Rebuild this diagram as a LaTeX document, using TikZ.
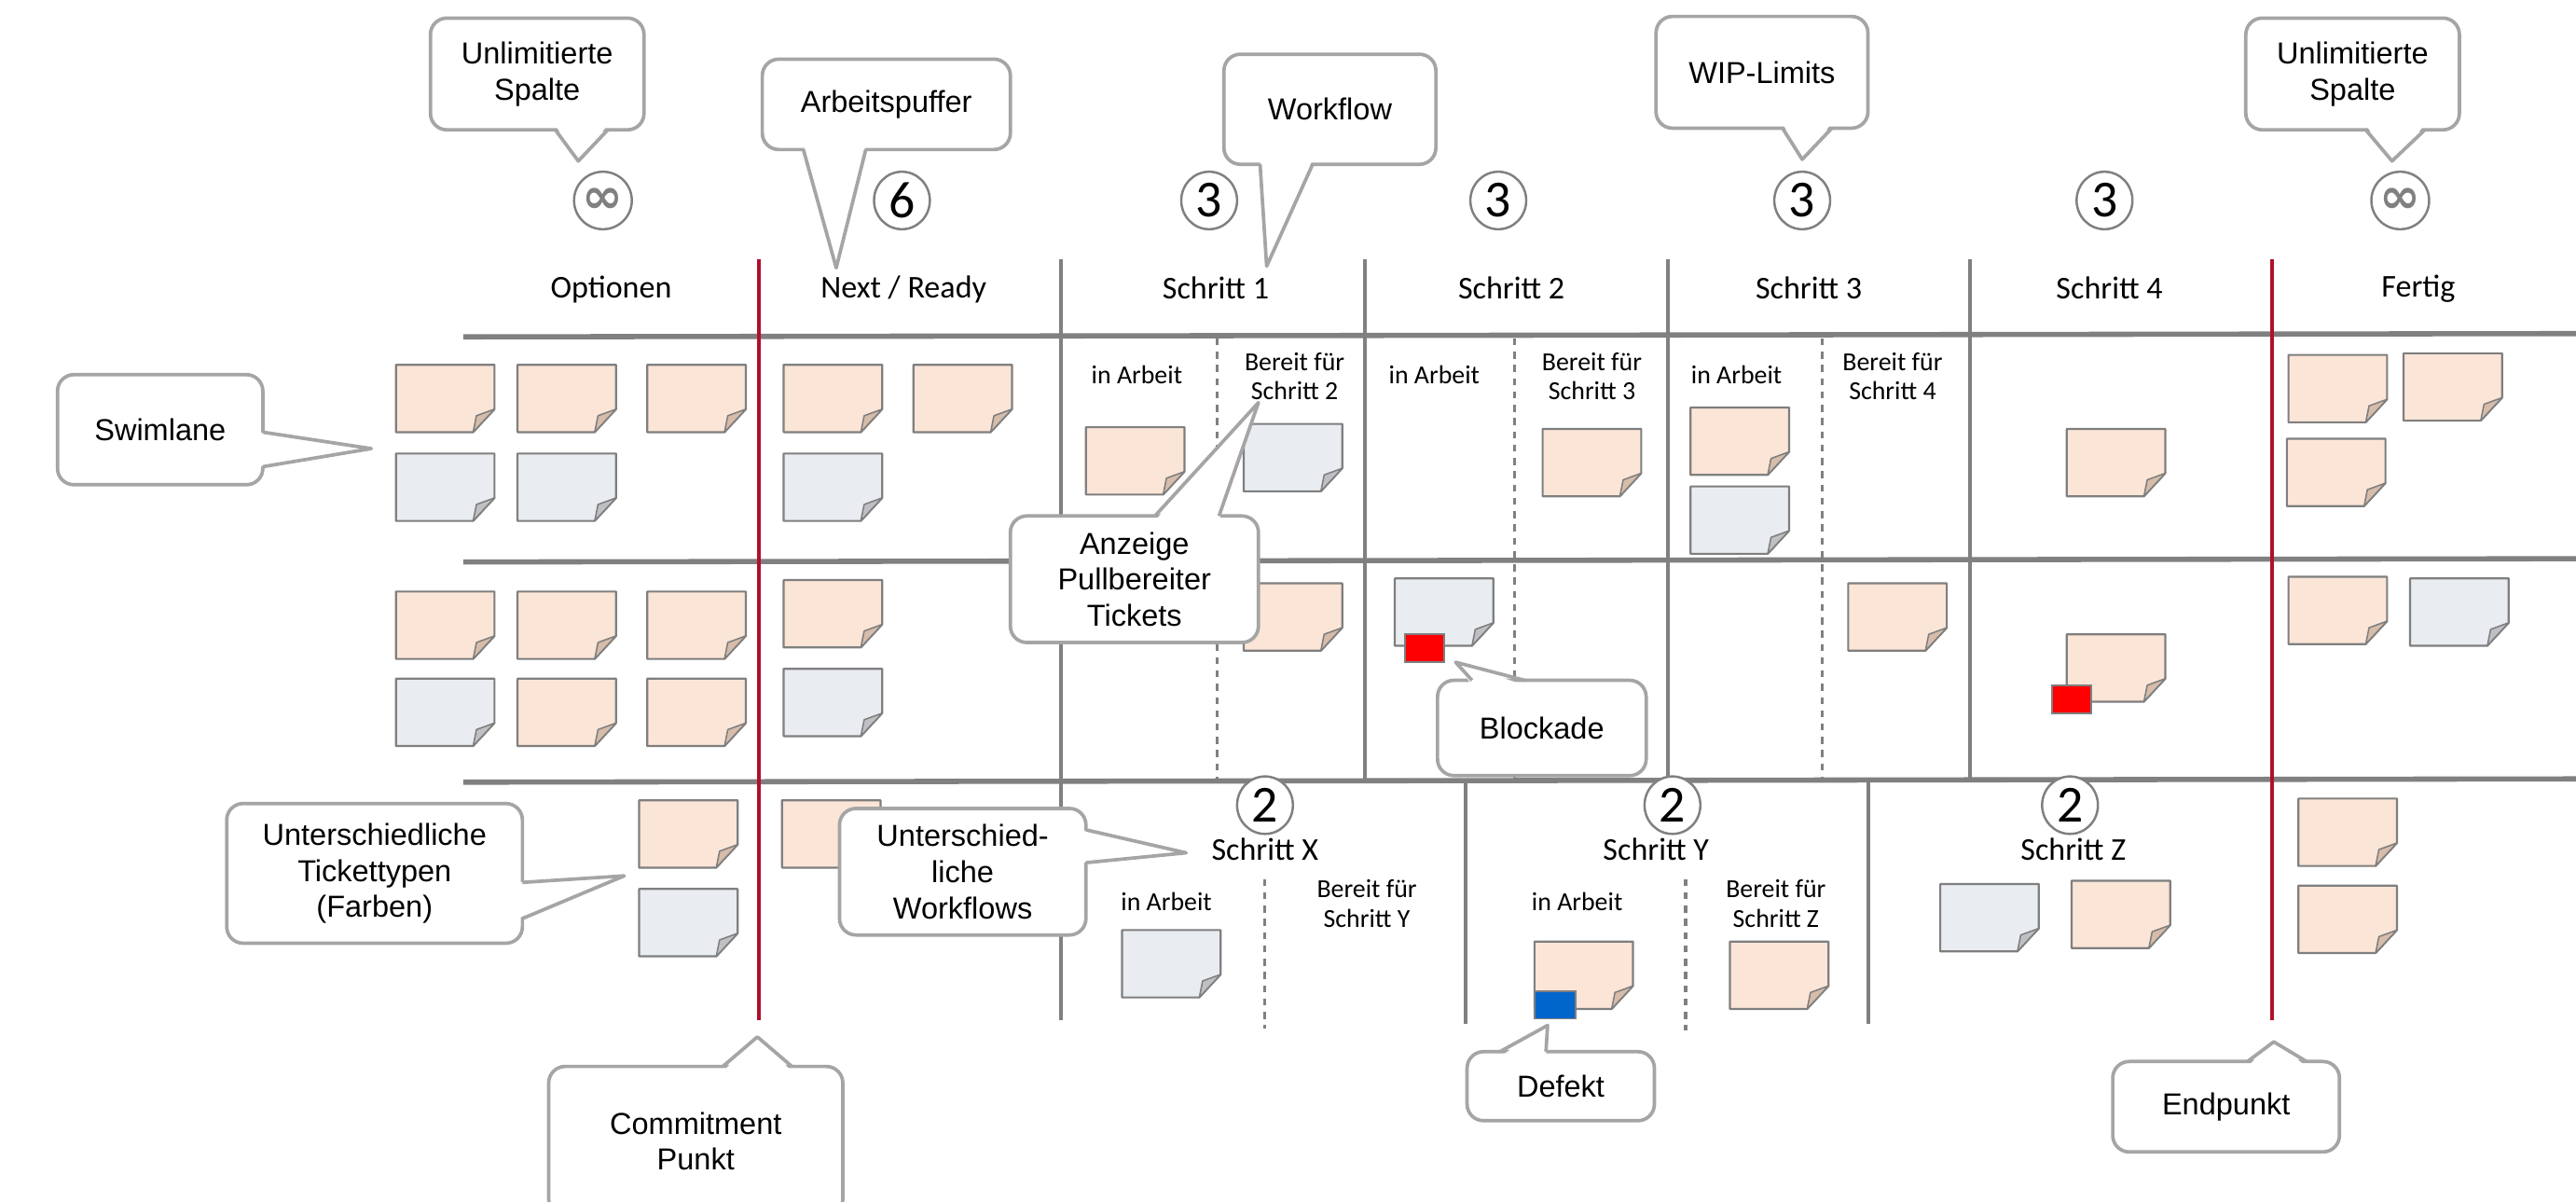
\documentclass[tikz,border=0pt]{standalone}
\usepackage{fontspec}
\setmainfont{Liberation Sans}
\newfontfamily\hand{Carlito}
\newfontfamily\dejavu{DejaVu Sans}
\usetikzlibrary{shapes.geometric}
\definecolor{peach}{HTML}{FBE5D6}
\definecolor{bluegrey}{HTML}{E9ECF0}
\definecolor{foldpeach}{HTML}{D6BCA9}
\definecolor{foldgrey}{HTML}{BFC0C4}
\definecolor{noteline}{HTML}{7F7F7F}
\definecolor{laneline}{HTML}{808080}
\definecolor{commitred}{HTML}{B0102C}
\definecolor{bubblegrey}{HTML}{A5A5A5}
\definecolor{blockred}{HTML}{FF0000}
\definecolor{defectblue}{HTML}{0066CC}
\tikzset{
  bubble/.style={draw=bubblegrey, line width=1.2pt, fill=white, rounded corners=0.2cm,
    align=center, inner sep=0pt, font=\fontsize{10.5}{12.5}\selectfont},
  bubbleline/.style={draw=bubblegrey, line width=1.2pt, line join=round},
  hdr/.style={font=\hand\fontsize{11}{12}\selectfont, inner sep=0pt},
  sublabel/.style={font=\hand\fontsize{9}{10.2}\selectfont, align=center, inner sep=0pt},
  wipbox/.style={ellipse, draw=laneline, line width=0.8pt, fill=white, minimum width=0.68cm,
    minimum height=0.7cm, inner sep=0pt, font=\hand\fontsize{18}{18}\selectfont},
  lane/.style={draw=laneline, line width=1.8pt},
  column/.style={draw=laneline, line width=1.3pt},
  commit/.style={draw=commitred, line width=1.2pt},
  substep/.style={draw=laneline, line width=1pt, dash pattern=on 2.4pt off 2.2pt},
  noteo/.style={fill=peach, draw=noteline, line width=0.7pt, line join=round},
  noteg/.style={fill=bluegrey, draw=noteline, line width=0.7pt, line join=round},
  foldo/.style={fill=foldpeach, draw=noteline, line width=0.5pt, line join=round},
  foldg/.style={fill=foldgrey, draw=noteline, line width=0.5pt, line join=round},
  marker/.style={draw=noteline, line width=0.6pt}
}
\newcommand\ticket[3]{%
  \begin{scope}[shift={(#1,#2)}]
    \filldraw[note#3] (0,0) -- (60,0) -- (60,27) -- (47,41) -- (0,41) -- cycle;
    \filldraw[fold#3] (60,27) -- (49,31) -- (47,41) -- cycle;
  \end{scope}}
\newcommand\bubblebox[6]{%
  \node[bubble, minimum width={(#4-#2)*0.02cm}, minimum height={(#5-#3)*0.02cm}]
    (#1) at ({(#2+#4)/2},{(#3+#5)/2}) {#6};}
\newcommand\pointer[9]{%
  \coordinate (#1-tip) at (#6,#7);
  \fill[white] ({#2+#8},{#3+#9}) -- (#1-tip) -- ({#4+#8},{#5+#9}) -- cycle;
  \draw[bubbleline] (#2,#3) -- (#1-tip) -- (#4,#5);}
\begin{document}
\begin{tikzpicture}[x=0.02cm,y=-0.02cm]
\clip (0,0) rectangle (1568,731);
\fill[white] (0,0) rectangle (1568,731);

% swimlane lines
\coordinate (l1a) at (282,205); \coordinate (l1b) at (1568,203);
\coordinate (l2a) at (282,342); \coordinate (l2b) at (1568,340);
\coordinate (l3a) at (282,476); \coordinate (l3b) at (1568,474);
\draw[lane] (l1a) -- (l1b);
\draw[lane] (l2a) -- (l2b);
\draw[lane] (l3a) -- (l3b);

% column lines
\draw[commit] (462,158) -- (462,621);
\draw[commit] (1383,158) -- (1383,621);
\draw[column] (646,158) -- (646,621);
\draw[column] (831,158) -- (831,476);
\draw[column] (1015,158) -- (1015,476);
\draw[column] (1199,158) -- (1199,476);
\draw[column] (892,476) -- (892,623);
\draw[column] (1137,476) -- (1137,623);

% sub-step dotted lines
\draw[substep] (741,206) -- (741,474);
\draw[substep] (922,206) -- (922,474);
\draw[substep] (1109,206) -- (1109,474);
\draw[substep] (770,535) -- (770,626);
\draw[substep] (1026,535) -- (1026,627);

% tickets lane 1
\ticket{241}{222}{o}\ticket{315}{222}{o}\ticket{394}{222}{o}
\ticket{477}{222}{o}\ticket{556}{222}{o}
\ticket{241}{276}{g}\ticket{315}{276}{g}\ticket{477}{276}{g}
\ticket{661}{260}{o}\ticket{757}{258}{g}\ticket{939}{261}{o}
\ticket{1029}{248}{o}\ticket{1029}{296}{g}\ticket{1258}{261}{o}
\ticket{1393}{216}{o}\ticket{1463}{215}{o}\ticket{1392}{267}{o}
% tickets lane 2
\ticket{241}{360}{o}\ticket{315}{360}{o}\ticket{394}{360}{o}
\ticket{241}{413}{g}\ticket{315}{413}{o}\ticket{394}{413}{o}
\ticket{477}{353}{o}\ticket{477}{407}{g}
\ticket{757}{355}{o}\ticket{849}{352}{g}\ticket{1125}{355}{o}
\ticket{1258}{386}{o}\ticket{1393}{351}{o}\ticket{1467}{352}{g}
% tickets lane 3
\ticket{389}{487}{o}\ticket{389}{541}{g}\ticket{476}{487}{o}
\ticket{683}{566}{g}\ticket{934}{573}{o}\ticket{1053}{573}{o}
\ticket{1181}{538}{g}\ticket{1261}{536}{o}
\ticket{1399}{486}{o}\ticket{1399}{539}{o}

% blocker and defect markers
\filldraw[marker, fill=blockred] (855,386) rectangle (879,403);
\filldraw[marker, fill=blockred] (1249,417) rectangle (1273,434);
\filldraw[marker, fill=defectblue] (934,603) rectangle (959,620);

% column headers
\node[hdr] (hOpt) at (372,176) {Optionen};
\node[hdr] (hNext) at (550,176) {Next / Ready};
\node[hdr] (hS1) at (740,175) {Schritt 1};
\node[hdr] (hS2) at (920,175) {Schritt 2};
\node[hdr] (hS3) at (1101,175) {Schritt 3};
\node[hdr] (hS4) at (1284,175) {Schritt 4};
\node[hdr] (hFer) at (1472,176) {Fertig};
\node[hdr] (hSX) at (770,517) {Schritt X};
\node[hdr] (hSY) at (1008,517) {Schritt Y};
\node[hdr] (hSZ) at (1262,517) {Schritt Z};

% sub labels
\node[sublabel] (a1) at (692,228) {in Arbeit};
\node[sublabel] (r1) at (788,229) {Bereit für\\Schritt 2};
\node[sublabel] (a2) at (873,228) {in Arbeit};
\node[sublabel] (r2) at (969,229) {Bereit für\\Schritt 3};
\node[sublabel] (a3) at (1057,228) {in Arbeit};
\node[sublabel] (r3) at (1152,229) {Bereit für\\Schritt 4};
\node[sublabel] (aX) at (710,549) {in Arbeit};
\node[sublabel] (rX) at (832,550) {Bereit für\\Schritt Y};
\node[sublabel] (aY) at (960,549) {in Arbeit};
\node[sublabel] (rY) at (1081,550) {Bereit für\\Schritt Z};

% WIP limits
\node[wipbox, text=laneline] (wOpt) at (367,122) {\dejavu\bfseries\fontsize{17}{17}\selectfont ∞};
\node[wipbox] (wNext) at (549,122) {6};
\node[wipbox] (wS1) at (736,122) {3};
\node[wipbox] (wS2) at (912,122) {3};
\node[wipbox] (wS3) at (1097,122) {3};
\node[wipbox] (wS4) at (1281,122) {3};
\node[wipbox, text=laneline] (wFer) at (1461,122) {\dejavu\bfseries\fontsize{17}{17}\selectfont ∞};
\node[wipbox] (wSX) at (770,490) {2};
\node[wipbox] (wSY) at (1018,490) {2};
\node[wipbox] (wSZ) at (1260,490) {2};

% callouts
\bubblebox{cUn1}{262}{11}{392}{79}{Unlimitierte\\Spalte}
\pointer{cUn1}{338}{79}{370}{79}{352}{98}{0}{-3}
\bubblebox{cArb}{464}{36}{615}{91}{Arbeitspuffer}
\pointer{cArb}{489}{91}{527}{91}{509}{163}{0}{-3}
\bubblebox{cWf}{745}{33}{874}{100}{Workflow}
\pointer{cWf}{767}{100}{799}{100}{771}{162}{0}{-3}
\bubblebox{cWip}{1008}{10}{1137}{78}{WIP-Limits}
\pointer{cWip}{1085}{78}{1115}{78}{1097}{97}{0}{-3}
\bubblebox{cUn2}{1367}{11}{1497}{79}{Unlimitierte\\Spalte}
\pointer{cUn2}{1440}{79}{1476}{79}{1456}{98}{0}{-3}
\bubblebox{cSwim}{35}{228}{160}{295}{Swimlane}
\pointer{cSwim}{160}{263}{160}{284}{226}{273}{-3}{0}
\bubblebox{cAnz}{615}{314}{766}{391}{Anzeige\\Pullbereiter\\Tickets}
\pointer{cAnz}{703}{314}{742}{314}{766}{245}{0}{3}
\bubblebox{cBlk}{875}{414}{1002}{472}{Blockade}
\pointer{cBlk}{896}{414}{928}{414}{886}{403}{0}{3}
\bubblebox{cTyp}{138}{489}{318}{574}{Unterschiedliche\\Tickettypen\\(Farben)}
\pointer{cTyp}{318}{537}{318}{559}{380}{533}{-3}{0}
\bubblebox{cUwf}{511}{492}{661}{569}{Unterschied-\\liche\\Workflows}
\pointer{cUwf}{661}{505}{661}{525}{722}{519}{-3}{0}
\bubblebox{cCom}{334}{649}{513}{740}{Commitment\\Punkt}
\pointer{cCom}{440}{649}{482}{649}{461}{631}{0}{3}
\bubblebox{cDef}{893}{640}{1007}{682}{Defekt}
\pointer{cDef}{913}{640}{941}{640}{942}{624}{0}{3}
\bubblebox{cEnd}{1286}{646}{1424}{701}{Endpunkt}
\pointer{cEnd}{1368}{646}{1404}{646}{1384}{634}{0}{3}
\end{tikzpicture}
\end{document}
